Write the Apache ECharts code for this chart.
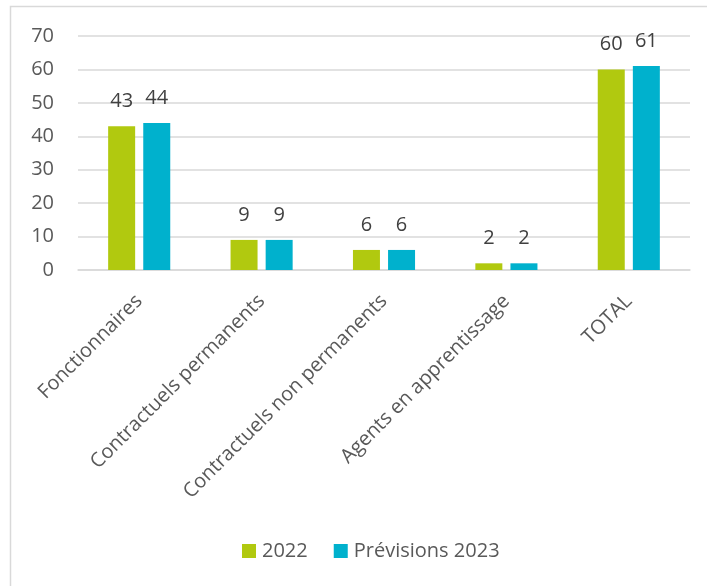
<!DOCTYPE html>
<html>
<head>
<meta charset="utf-8">
<script src="https://cdn.jsdelivr.net/npm/echarts@6/dist/echarts.min.js"></script>
<style>
  html, body { margin: 0; padding: 0; background: #fff; }
  #chart { width: 707px; height: 586px; }
</style>
</head>
<body>
<div id="chart"></div>
<script>
// Staff headcount by category: 2022 actuals vs 2023 forecast
const categories = ['Fonctionnaires', 'Contractuels permanents', 'Contractuels non permanents', 'Agents en apprentissage', 'TOTAL'];
const values2022 = [43, 9, 6, 2, 60];
const values2023 = [44, 9, 6, 2, 61];
const seriesNames = ['2022', 'Prévisions 2023'];
const colors = ['#b1c90f', '#00b1cd'];

const FONT = '"Open Sans", sans-serif';
const SIZE = 20;

const chart = echarts.init(document.getElementById('chart'));

const label = {
  show: true,
  position: 'top',
  distance: 15,
  color: '#404040',
  fontFamily: FONT,
  fontSize: SIZE
};

chart.setOption({
  animation: false,
  textStyle: { fontFamily: FONT },
  graphic: [{
    type: 'rect',
    shape: { x: 10.5, y: 6.5, width: 720, height: 600 },
    style: { fill: 'none', stroke: '#d9d9d9', lineWidth: 1.5 },
    z: -1
  }],
  grid: { left: 78, right: 17, top: 36, bottom: 316 },
  legend: {
    bottom: 20,
    left: 237,
    itemWidth: 14,
    itemHeight: 14,
    itemGap: 26,
    icon: 'rect',
    textStyle: { color: '#595959', fontSize: SIZE, fontFamily: FONT, padding: [0, 0, 0, 1] },
    data: seriesNames
  },
  xAxis: {
    type: 'category',
    data: categories,
    axisLine: { lineStyle: { color: '#d9d9d9', width: 1.5 } },
    axisTick: { show: false },
    axisLabel: {
      rotate: 45,
      interval: 0,
      margin: 28,
      color: '#595959',
      fontSize: SIZE,
      fontFamily: FONT
    }
  },
  yAxis: {
    type: 'value',
    min: 0,
    max: 70,
    interval: 10,
    axisLine: { show: false },
    axisTick: { show: false },
    axisLabel: { margin: 24, color: '#595959', fontSize: SIZE, fontFamily: FONT },
    splitLine: { lineStyle: { color: '#d9d9d9', width: 1.5 } }
  },
  series: [
    {
      name: seriesNames[0],
      type: 'bar',
      data: values2022,
      barWidth: 27,
      barGap: '30%',
      itemStyle: { color: colors[0] },
      label: label
    },
    {
      name: seriesNames[1],
      type: 'bar',
      data: values2023,
      barWidth: 27,
      itemStyle: { color: colors[1] },
      label: label
    }
  ]
});
</script>
</body>
</html>
